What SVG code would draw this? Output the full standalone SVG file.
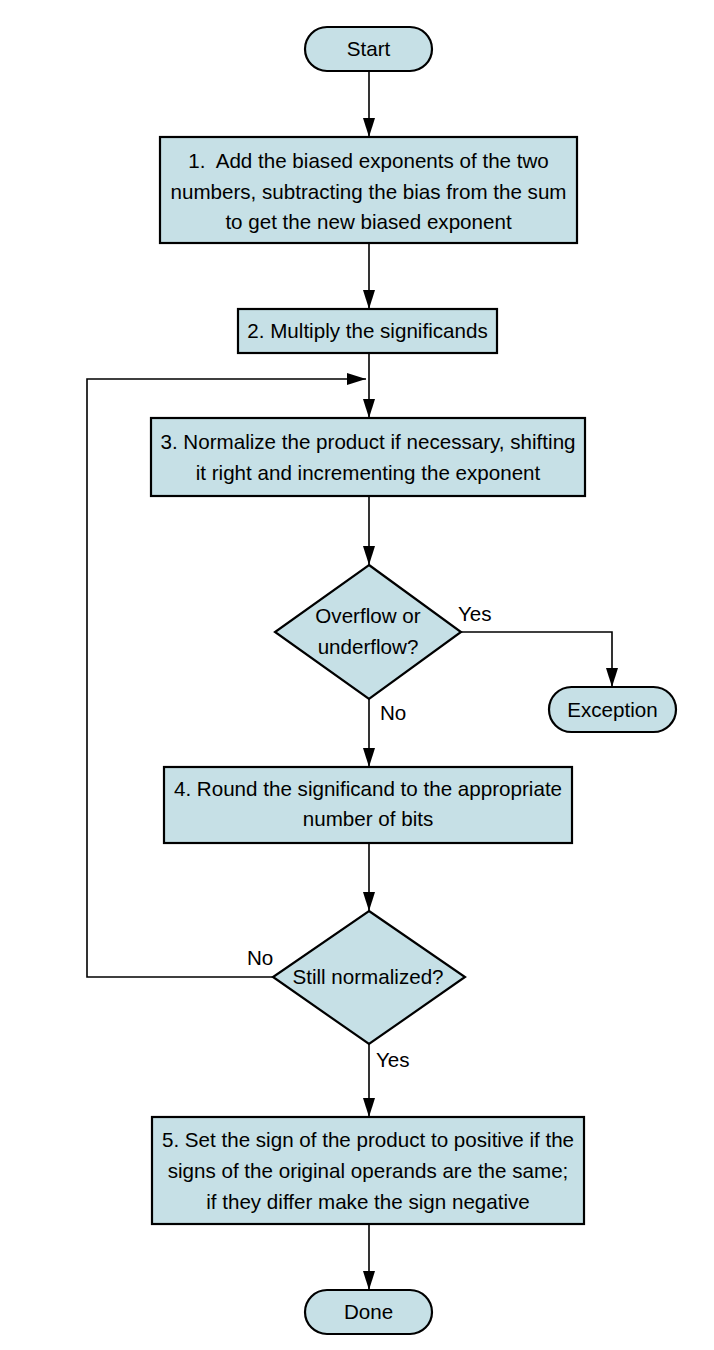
<svg xmlns="http://www.w3.org/2000/svg" width="714" height="1350" viewBox="0 0 714 1350">
<defs>
<marker id="arr" markerWidth="19" markerHeight="12" refX="19" refY="6" orient="auto" markerUnits="userSpaceOnUse" viewBox="0 0 19 12">
<path d="M0,0 L19,6 L0,12 Z" fill="#000"/>
</marker>
</defs>
<style>
.n{fill:#c6e0e6;stroke:#000;stroke-width:2.2}
.t{font-family:"Liberation Sans",Arial,sans-serif;font-size:20.6px;fill:#000;text-anchor:middle;dominant-baseline:central}
.l{font-family:"Liberation Sans",Arial,sans-serif;font-size:20.6px;fill:#000;dominant-baseline:central}
.c{fill:none;stroke:#000;stroke-width:1.6}
</style>
<rect width="714" height="1350" fill="#fff"/>
<g id="connectors">
<path class="c" d="M369,71 V137" marker-end="url(#arr)"/>
<path class="c" d="M369,243 V309" marker-end="url(#arr)"/>
<path class="c" d="M369,353 V418" marker-end="url(#arr)"/>
<path class="c" d="M369,496 V565" marker-end="url(#arr)"/>
<path class="c" d="M461,632 H612 V687" marker-end="url(#arr)"/>
<path class="c" d="M369,699 V767" marker-end="url(#arr)"/>
<path class="c" d="M369,843 V911" marker-end="url(#arr)"/>
<path class="c" d="M273,977 H87 V379 H366" marker-end="url(#arr)"/>
<path class="c" d="M369,1044 V1117" marker-end="url(#arr)"/>
<path class="c" d="M369,1224 V1290" marker-end="url(#arr)"/>
<text class="l" x="458" y="613">Yes</text>
<text class="l" x="380" y="712">No</text>
<text class="l" x="247" y="957">No</text>
<text class="l" x="376" y="1059">Yes</text>
</g>
<g id="start">
<rect class="n" x="305" y="27" width="127" height="44" rx="22"/>
<text class="t" x="368.5" y="48">Start</text>
</g>
<g id="step1">
<rect class="n" x="160" y="137" width="417" height="106"/>
<text class="t" x="368.5" y="160" xml:space="preserve">1.  Add the biased exponents of the two</text>
<text class="t" x="368.5" y="191">numbers, subtracting the bias from the sum</text>
<text class="t" x="368.5" y="221">to get the new biased exponent</text>
</g>
<g id="step2">
<rect class="n" x="238" y="309" width="259" height="44"/>
<text class="t" x="367.5" y="330">2. Multiply the significands</text>
</g>
<g id="step3">
<rect class="n" x="151" y="418" width="434" height="78"/>
<text class="t" x="368" y="441">3. Normalize the product if necessary, shifting</text>
<text class="t" x="368" y="472">it right and incrementing the exponent</text>
</g>
<g id="overflow">
<polygon class="n" points="369,565 461,632 369,699 275,632"/>
<text class="t" x="368" y="615">Overflow or</text>
<text class="t" x="368" y="646">underflow?</text>
</g>
<g id="exception">
<rect class="n" x="549" y="687" width="127" height="45" rx="22.5"/>
<text class="t" x="612.5" y="709">Exception</text>
</g>
<g id="step4">
<rect class="n" x="164" y="767" width="408" height="76"/>
<text class="t" x="368" y="788">4. Round the significand to the appropriate</text>
<text class="t" x="368" y="818">number of bits</text>
</g>
<g id="normalized">
<polygon class="n" points="369,911 465,977 369,1044 273,977"/>
<text class="t" x="368" y="976">Still normalized?</text>
</g>
<g id="step5">
<rect class="n" x="152" y="1117" width="432" height="107"/>
<text class="t" x="368" y="1139">5. Set the sign of the product to positive if the</text>
<text class="t" x="368" y="1170">signs of the original operands are the same;</text>
<text class="t" x="368" y="1201">if they differ make the sign negative</text>
</g>
<g id="done">
<rect class="n" x="305" y="1290" width="127" height="44" rx="22"/>
<text class="t" x="368.5" y="1311">Done</text>
</g>
</svg>
